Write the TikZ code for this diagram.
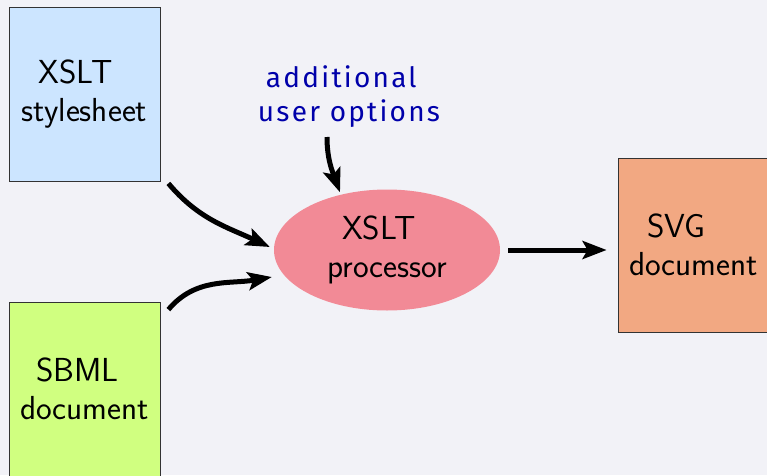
\documentclass[tikz,border=0pt]{standalone}
\usepackage{amsmath}
\usepackage{fontspec}
\usepackage{tikz}
\usetikzlibrary{arrows.meta,shapes.geometric}
\newfontfamily\handfont[LetterSpace=8]{Fira Sans}
\definecolor{bg}{RGB}{242,242,247}
\definecolor{xslblue}{RGB}{204,229,255}
\definecolor{sbmlgreen}{RGB}{208,255,128}
\definecolor{svgorange}{RGB}{242,168,130}
\definecolor{procpink}{RGB}{242,138,150}
\definecolor{inkblue}{RGB}{0,0,170}

\begin{document}
\begin{tikzpicture}[x=1pt,y=1pt]
    \tikzstyle{every node}+=[inner sep=0pt, font=\sffamily\fontsize{33.3}{38}\selectfont]
    \tikzstyle{docbox}=[draw=black!80, line width=0.8pt, minimum width=151pt, minimum height=174pt, align=left]
    \tikzstyle{flow}=[line width=5pt, -{Stealth[length=24pt,width=18pt,inset=5pt]}]
    \fill [bg] (0,0) rectangle (767,475);
    \useasboundingbox (0,0) rectangle (767,475);
    \node [docbox, fill=xslblue] (xsl) at (84.5,381) {\hspace*{17pt}XSLT\\stylesheet};
    \node [docbox, fill=sbmlgreen] (sbml) at (84.5,86) {\hspace*{16pt}SBML\\document};
    \node [docbox, fill=svgorange] (svg) at (693.5,230) {\hspace*{18pt}SVG\\document};
    \node [ellipse, fill=procpink, minimum width=226pt, minimum height=121pt, align=left] (proc) at (387,225) {\hspace*{15pt}XSLT\\processor};
    \node [anchor=south, align=left, text=inkblue, font=\handfont\fontsize{28}{34}\selectfont] (opts) at (349,347) {\hspace*{8pt}additional\\user options};
    \draw [flow] ([xshift=-22pt,yshift=-9pt]opts.south) to[out=-90,in=110] ([xshift=-47pt,yshift=-3pt]proc.north);
    \draw [flow] ([xshift=8pt,yshift=-2pt]xsl.south east) to[out=-50,in=155] ([xshift=-4pt,yshift=3pt]proc.west);
    \draw [flow] ([xshift=8pt,yshift=-8pt]sbml.north east) to[out=50,in=190] ([xshift=-2pt,yshift=-27pt]proc.west);
    \draw [flow, shorten <=8pt, shorten >=11pt] (proc.east) -- (proc.east -| svg.west);
\end{tikzpicture}
\end{document}
